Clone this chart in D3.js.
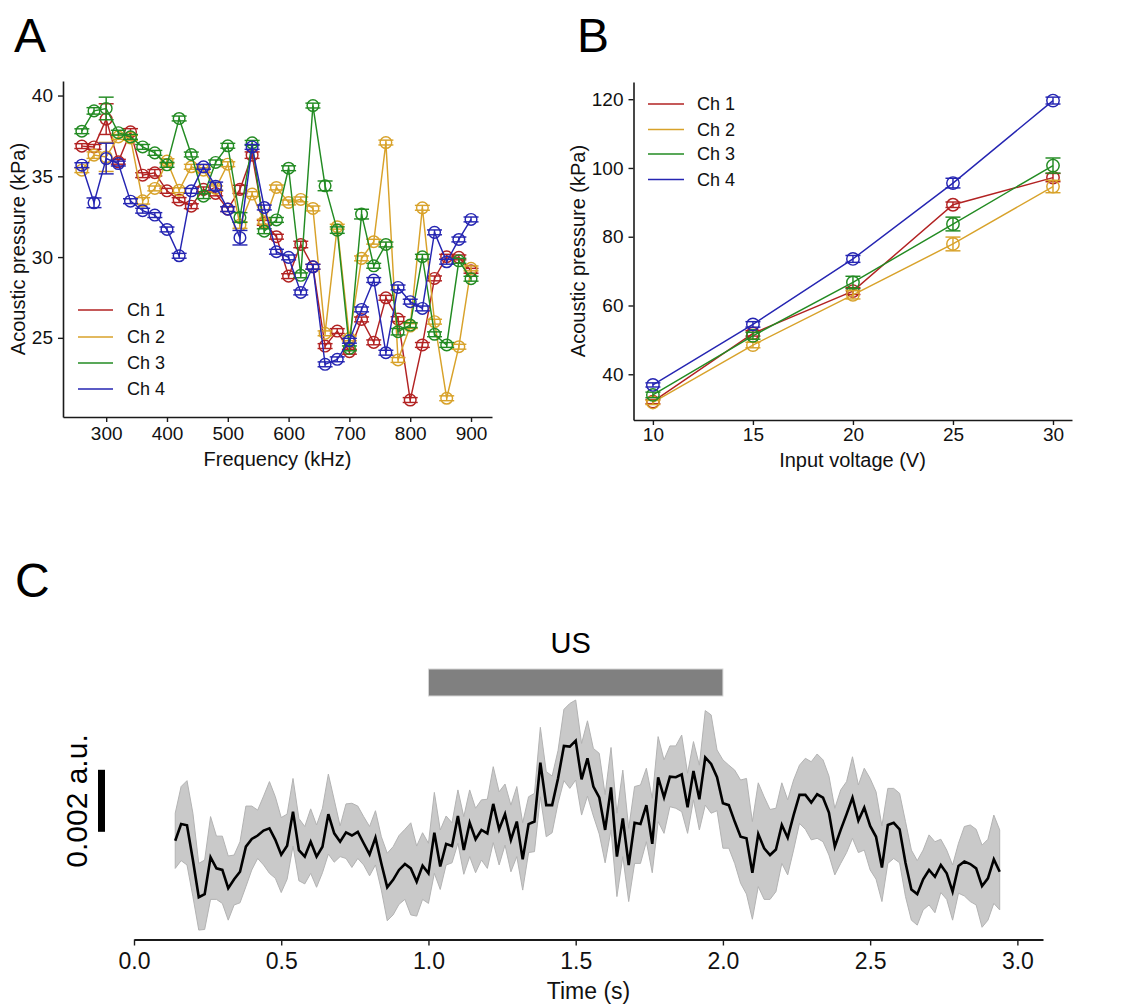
<!DOCTYPE html>
<html><head><meta charset="utf-8">
<script src="https://cdn.jsdelivr.net/npm/d3@7"></script>
<style>
body{margin:0;background:#fff;}
svg{display:block;font-family:"Liberation Sans",Arial,Helvetica,sans-serif;}
</style></head><body>
<svg id="chart" width="1121" height="1005"></svg>
<script>
// ---------------- DATA ----------------
const seriesNames = ["Ch 1", "Ch 2", "Ch 3", "Ch 4"];

// Panel A: acoustic pressure (kPa) vs frequency (kHz)
const frequencies = [260,280,300,320,340,360,380,400,420,440,460,480,500,520,540,560,580,600,620,640,660,680,700,720,740,760,780,800,820,840,860,880,900];
const freqCh1 = [36.87,36.82,38.54,35.9,37.75,35.07,35.22,34.1,33.53,33.15,34.19,33.94,32.97,34.19,36.31,32.12,31.26,28.82,30.78,29.4,24.49,25.42,24.14,26.14,24.72,27.48,26.16,21.15,24.56,28.68,30.02,29.98,29.15];
const freqCh2 = [35.38,36.31,36.2,37.44,37.38,33.48,34.25,35.94,34.14,35.59,35.38,34.25,35.75,31.98,33.9,32.19,34.31,33.38,33.57,33.01,25.28,31.88,24.97,29.92,30.95,37.09,23.63,25.73,33.05,26.0,21.26,24.45,29.3];
const freqCh3 = [37.79,39.05,39.2,37.7,37.44,36.82,36.45,35.71,38.58,36.35,33.77,35.86,36.89,32.45,37.07,31.6,32.3,35.5,28.87,39.38,34.41,31.67,24.35,32.66,29.46,30.78,25.38,25.79,30.02,25.22,24.56,29.77,28.66];
const freqCh4 = [35.69,33.36,36.1,35.79,33.46,32.87,32.6,31.71,30.08,34.1,35.59,34.39,32.97,31.2,36.82,33.07,30.33,29.98,27.81,29.4,23.36,23.67,24.82,26.76,28.58,24.08,28.12,27.24,26.82,31.53,29.71,31.09,32.33];
const freqErr1 = [0.15,0.15,0.95,0.15,0.2,0.15,0.2,0.15,0.15,0.15,0.15,0.15,0.15,0.25,0.2,0.15,0.15,0.15,0.2,0.15,0.15,0.15,0.15,0.15,0.15,0.15,0.15,0.15,0.15,0.15,0.15,0.15,0.15];
const freqErr2 = [0.15,0.2,0.9,0.15,0.15,0.2,0.15,0.15,0.15,0.15,0.15,0.15,0.15,0.2,0.15,0.15,0.15,0.15,0.15,0.15,0.15,0.15,0.15,0.15,0.15,0.15,0.15,0.15,0.15,0.15,0.15,0.15,0.15];
const freqErr3 = [0.15,0.2,0.7,0.15,0.15,0.15,0.15,0.15,0.15,0.15,0.15,0.15,0.15,0.3,0.15,0.15,0.15,0.15,0.15,0.15,0.3,0.2,0.15,0.3,0.15,0.15,0.2,0.15,0.15,0.15,0.15,0.15,0.15];
const freqErr4 = [0.15,0.3,0.95,0.15,0.15,0.15,0.15,0.15,0.15,0.15,0.15,0.25,0.15,0.45,0.15,0.15,0.15,0.15,0.15,0.15,0.15,0.15,0.15,0.15,0.15,0.15,0.15,0.15,0.15,0.15,0.15,0.15,0.15];
const freqTicks = [300,400,500,600,700,800,900];
const freqPressureTicks = [25,30,35,40];

// Panel B: acoustic pressure (kPa) vs input voltage (V)
const voltages = [10,15,20,25,30];
const voltCh1 = [32.05,51.9,64.2,89.3,97.2];
const voltCh2 = [31.8,48.5,63.1,77.9,94.6];
const voltCh3 = [34.0,51.2,66.7,83.7,100.7];
const voltCh4 = [36.9,54.5,73.55,95.6,119.6];
const voltErr1 = [0.6,0.8,1.0,0.8,1.2];
const voltErr2 = [0.6,0.8,1.2,2.0,1.8];
const voltErr3 = [0.8,1.0,1.8,2.0,2.2];
const voltErr4 = [0.6,0.8,1.0,1.4,1.0];
const voltTicks = [10,15,20,25,30];
const voltPressureTicks = [40,60,80,100,120];

// Panel C: response trace (units of 0.001 a.u.), sampled every 0.02 s from 0.14 s
const traceStart = 0.14;
const traceStep = 0.02;
const traceMean = [1.91,2.45,2.41,1.29,0.09,0.19,1.38,1.02,0.97,0.38,
0.67,0.91,1.72,1.97,2.08,2.24,2.31,1.94,1.46,1.75,
2.85,1.61,1.40,1.88,1.40,1.72,2.77,2.15,1.88,2.18,
2.08,2.20,1.83,1.47,2.01,1.18,0.41,0.65,0.97,1.16,
1.02,0.59,1.11,0.86,2.17,1.08,1.81,1.74,2.71,1.61,
2.49,1.96,2.26,2.15,3.10,2.28,2.77,1.94,2.53,1.31,
2.45,2.53,4.43,3.06,3.06,3.92,4.97,4.95,5.14,3.89,
4.57,3.66,3.31,2.26,3.63,1.40,2.63,1.13,2.49,2.45,
3.06,1.81,3.96,3.31,3.98,3.96,4.05,2.99,4.16,3.25,
4.60,4.39,3.96,3.12,3.06,2.53,2.04,1.99,0.88,2.13,
1.67,1.45,1.63,2.42,2.01,2.74,3.39,3.39,3.14,3.41,
3.30,2.82,1.72,2.26,2.77,3.30,2.56,2.98,2.39,2.04,
1.05,2.42,2.49,2.28,1.20,0.34,0.19,0.67,0.97,0.75,
1.13,0.86,0.27,1.10,1.24,1.16,1.02,0.45,0.70,1.31,
0.91];
const traceUpper = [2.80,3.66,3.85,2.80,1.18,1.29,2.69,2.06,2.06,1.42,
1.45,1.88,3.03,3.03,2.90,3.35,3.82,3.33,2.66,2.77,
3.92,2.63,2.37,2.94,2.42,2.96,4.06,3.23,2.39,3.10,
3.12,3.03,2.69,2.37,2.88,2.04,1.51,1.72,2.08,2.28,
2.49,1.74,2.17,1.83,3.47,2.26,2.71,2.49,3.55,2.69,
3.55,2.96,3.23,3.25,4.30,3.49,3.74,3.06,3.66,2.49,
3.33,3.44,5.57,4.14,4.00,4.82,6.15,6.34,6.45,5.05,
5.78,4.89,4.73,3.40,4.92,2.80,4.19,2.31,3.66,3.71,
4.25,3.28,5.27,4.52,4.97,4.97,5.32,4.09,5.11,4.35,
6.11,5.97,4.84,4.52,4.35,4.19,3.87,3.92,2.53,3.78,
3.33,2.92,2.96,3.78,3.23,3.87,4.35,4.57,4.46,4.71,
4.52,4.00,2.96,3.55,3.82,4.62,3.71,4.25,3.92,3.49,
2.39,3.60,3.60,3.44,2.53,1.61,1.27,1.61,2.10,1.88,
1.96,1.61,1.13,1.83,2.37,2.42,2.28,1.77,1.96,2.74,
2.26];
const traceLower = [1.02,1.27,1.13,0.11,-0.97,-0.95,0.02,0.02,-0.11,-0.65,
-0.16,-0.09,0.43,0.97,1.34,1.13,0.86,0.70,0.24,0.67,
1.74,0.62,0.52,0.86,0.41,0.88,1.48,1.22,1.40,1.34,
1.05,1.34,1.13,0.78,1.13,0.32,-0.67,-0.48,-0.14,0.02,
-0.48,-0.52,0.02,-0.11,0.86,0.34,1.13,1.20,1.83,0.83,
1.40,0.88,1.29,1.02,1.85,1.13,1.77,0.91,1.40,0.32,
1.53,1.56,3.33,2.04,2.17,3.12,3.85,3.60,3.87,2.74,
3.35,2.71,2.13,1.20,2.26,0.11,1.40,-0.05,1.18,1.18,
1.88,0.88,2.53,2.15,3.01,2.96,2.85,2.15,3.23,2.26,
3.06,2.80,2.88,1.67,1.67,1.18,0.54,0.19,-0.62,0.43,
0.02,0.02,0.27,1.18,0.81,1.61,2.47,2.28,1.94,1.99,
1.88,1.45,0.81,1.18,1.53,1.99,1.53,1.61,0.97,0.67,
-0.05,1.18,1.34,1.20,0.11,-0.65,-0.81,-0.32,-0.16,-0.41,
0.24,0.02,-0.65,0.22,0.13,-0.05,-0.16,-0.88,-0.65,-0.11,
-0.32];
const timeTicks = [0,0.5,1.0,1.5,2.0,2.5,3.0];
const stimulusStart = 1.0, stimulusEnd = 2.0;
const scaleBarLow = 2.2, scaleBarSize = 2; // 2 x 0.001 a.u.

// ---------------- STYLE ----------------
const colors = ["#b22222", "#d8a22a", "#228b22", "#2525b2"];
const axisColor = "#1a1a1a";
const svg = d3.select("#chart");

function styleAxis(g, fs) {
  g.select(".domain").attr("stroke", axisColor).attr("stroke-width", 1.6);
  g.selectAll(".tick line").attr("stroke", axisColor).attr("stroke-width", 1.4);
  g.selectAll(".tick text").attr("fill", "#111").attr("font-size", fs)
    .attr("font-family", "'Liberation Sans', Arial, sans-serif");
}

function drawSeriesPanel(g, xs, ys, xVals, ySeries, errSeries, r, capHalf, lw) {
  ySeries.forEach((vals, k) => {
    const pts = xVals.map((x, i) => ({x, y: vals[i], e: errSeries[k][i]}));
    const sg = g.append("g");
    sg.append("path").datum(pts)
      .attr("d", d3.line().x(d => xs(d.x)).y(d => ys(d.y)))
      .attr("fill", "none").attr("stroke", colors[k]).attr("stroke-width", lw);
    const eb = sg.selectAll("g.eb").data(pts).join("g");
    eb.append("line").attr("x1", d => xs(d.x)).attr("x2", d => xs(d.x))
      .attr("y1", d => ys(d.y - d.e)).attr("y2", d => ys(d.y + d.e))
      .attr("stroke", colors[k]).attr("stroke-width", lw);
    [-1, 1].forEach(s => {
      eb.append("line").attr("x1", d => xs(d.x) - capHalf).attr("x2", d => xs(d.x) + capHalf)
        .attr("y1", d => ys(d.y + s * d.e)).attr("y2", d => ys(d.y + s * d.e))
        .attr("stroke", colors[k]).attr("stroke-width", lw);
    });
    eb.append("circle").attr("cx", d => xs(d.x)).attr("cy", d => ys(d.y)).attr("r", r)
      .attr("fill", "none").attr("stroke", colors[k]).attr("stroke-width", lw);
  });
}

function drawLegend(g, x0, x1, tx, yList) {
  seriesNames.forEach((n, k) => {
    g.append("line").attr("x1", x0).attr("x2", x1).attr("y1", yList[k]).attr("y2", yList[k])
      .attr("stroke", colors[k]).attr("stroke-width", 1.6);
    g.append("text").attr("x", tx).attr("y", yList[k]).attr("dy", "0.36em")
      .attr("font-size", 18).attr("fill", "#111").text(n);
  });
}

// ---------------- PANEL A ----------------
const xA = d3.scaleLinear().domain([229, 934.5]).range([63, 492]);
const yA = d3.scaleLinear().domain([20.1, 40.9]).range([417, 81]);
const gA = svg.append("g");
gA.append("g").attr("transform", "translate(0,417)")
  .call(d3.axisBottom(xA).tickValues(freqTicks).tickSize(5).tickPadding(5).tickSizeOuter(0))
  .call(g => styleAxis(g, 19));
gA.append("g").attr("transform", "translate(63,0)")
  .call(d3.axisLeft(yA).tickValues(freqPressureTicks).tickSize(5).tickPadding(5).tickSizeOuter(0))
  .call(g => styleAxis(g, 19));
drawSeriesPanel(gA, xA, yA, frequencies, [freqCh1, freqCh2, freqCh3, freqCh4],
  [freqErr1, freqErr2, freqErr3, freqErr4], 5.8, 7.5, 1.45);
drawLegend(gA, 78, 113, 127, [310, 337, 363, 389]);
gA.append("text").attr("x", 277.5).attr("y", 466).attr("text-anchor", "middle").attr("font-size", 20)
  .attr("fill", "#111").text("Frequency (kHz)");
gA.append("text").attr("transform", "translate(25,249) rotate(-90)").attr("text-anchor", "middle")
  .attr("font-size", 20).attr("fill", "#111").text("Acoustic pressure (kPa)");
svg.append("text").attr("x", 14).attr("y", 52).attr("font-size", 48).attr("fill", "#000").text("A");

// ---------------- PANEL B ----------------
const xB = d3.scaleLinear().domain([9.03, 30.95]).range([633.5, 1072]);
const yB = d3.scaleLinear().domain([26.7, 125]).range([420, 82]);
const gB = svg.append("g");
gB.append("g").attr("transform", "translate(0,420)")
  .call(d3.axisBottom(xB).tickValues(voltTicks).tickSize(5).tickPadding(3).tickSizeOuter(0))
  .call(g => styleAxis(g, 19));
gB.append("g").attr("transform", "translate(633.5,0)")
  .call(d3.axisLeft(yB).tickValues(voltPressureTicks).tickSize(5).tickPadding(5).tickSizeOuter(0))
  .call(g => styleAxis(g, 19));
drawSeriesPanel(gB, xB, yB, voltages, [voltCh1, voltCh2, voltCh3, voltCh4],
  [voltErr1, voltErr2, voltErr3, voltErr4], 6.2, 7.5, 1.45);
drawLegend(gB, 648, 684, 697, [104, 129.5, 154, 179.5]);
gB.append("text").attr("x", 852.5).attr("y", 467).attr("text-anchor", "middle").attr("font-size", 20)
  .attr("fill", "#111").text("Input voltage (V)");
gB.append("text").attr("transform", "translate(585,251) rotate(-90)").attr("text-anchor", "middle")
  .attr("font-size", 20).attr("fill", "#111").text("Acoustic pressure (kPa)");
svg.append("text").attr("x", 577).attr("y", 52).attr("font-size", 48).attr("fill", "#000").text("B");

// ---------------- PANEL C ----------------
const xC = d3.scaleLinear().domain([0, 3.087]).range([134, 1043]);
const yC = d3.scaleLinear().domain([0, 2]).range([900, 838]);
const trace = traceMean.map((m, i) => ({t: traceStart + i * traceStep, m, lo: traceLower[i], hi: traceUpper[i]}));
const gC = svg.append("g");
gC.append("path").datum(trace)
  .attr("d", d3.area().x(d => xC(d.t)).y0(d => yC(d.lo)).y1(d => yC(d.hi)))
  .attr("fill", "#c9c9c9").attr("stroke", "#b3b3b3").attr("stroke-width", 1);
gC.append("path").datum(trace)
  .attr("d", d3.line().x(d => xC(d.t)).y(d => yC(d.m)))
  .attr("fill", "none").attr("stroke", "#000").attr("stroke-width", 2.6).attr("stroke-linejoin", "miter");
gC.append("g").attr("transform", "translate(0,939.5)")
  .call(d3.axisBottom(xC).tickValues(timeTicks).tickFormat(d3.format(".1f")).tickSize(6).tickPadding(7).tickSizeOuter(0))
  .call(g => styleAxis(g, 23))
  .call(g => g.select(".domain").attr("stroke-width", 2));
gC.append("text").attr("x", 588.5).attr("y", 999).attr("text-anchor", "middle").attr("font-size", 23)
  .attr("fill", "#111").text("Time (s)");
// stimulus bar
gC.append("rect").attr("x", xC(stimulusStart)).attr("width", xC(stimulusEnd) - xC(stimulusStart))
  .attr("y", 669).attr("height", 27).attr("fill", "#808080").attr("stroke", "#d6d6d6").attr("stroke-width", 1);
gC.append("text").attr("x", (xC(stimulusStart) + xC(stimulusEnd)) / 2 - 5).attr("y", 653)
  .attr("text-anchor", "middle").attr("font-size", 29).attr("fill", "#000").text("US");
// scale bar
gC.append("rect").attr("x", 98).attr("width", 7)
  .attr("y", yC(scaleBarLow + scaleBarSize)).attr("height", yC(scaleBarLow) - yC(scaleBarLow + scaleBarSize))
  .attr("fill", "#000");
gC.append("text").attr("transform", "translate(87,801) rotate(-90)").attr("text-anchor", "middle")
  .attr("font-size", 30).attr("fill", "#000").text("0.002 a.u.");
svg.append("text").attr("x", 15).attr("y", 597).attr("font-size", 48).attr("fill", "#000").text("C");
</script>
</body></html>
